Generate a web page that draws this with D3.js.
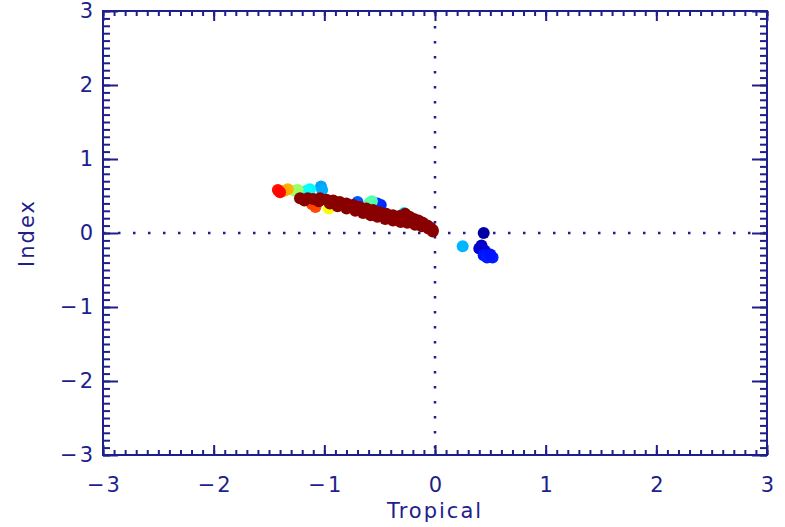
<!DOCTYPE html>
<html>
<head>
<meta charset="utf-8">
<script src="https://cdn.jsdelivr.net/npm/d3@7"></script>
<style>
  html, body { margin: 0; padding: 0; background: #ffffff; }
  svg { display: block; }
</style>
</head>
<body>
<script>
// ---- data ----
const xTicks = [-3, -2, -1, 0, 1, 2, 3];
const yTicks = [-3, -2, -1, 0, 1, 2, 3];
const xLabel = "Tropical";
const yLabel = "Index";

// coloured points: colour value t in [0,1] on a jet scale
const colX = [0.44, 0.42, 0.40, 0.45, 0.44, 0.47, 0.52, 0.50, 0.25, -0.49, -0.52, -0.70, -1.03, -1.02, -1.13, -1.16, -0.28, -0.57, -0.59, -1.24, -1.27, -0.96, -1.33, -1.36, -1.08, -1.11, -1.42, -1.40];
const colY = [0.00, -0.17, -0.21, -0.24, -0.30, -0.33, -0.33, -0.29, -0.18, 0.38, 0.40, 0.42, 0.63, 0.58, 0.59, 0.57, 0.27, 0.43, 0.41, 0.58, 0.57, 0.33, 0.59, 0.57, 0.35, 0.39, 0.58, 0.55];
const colT = [0.02, 0.05, 0.06, 0.07, 0.13, 0.14, 0.14, 0.13, 0.30, 0.15, 0.16, 0.20, 0.28, 0.29, 0.37, 0.38, 0.36, 0.45, 0.46, 0.52, 0.53, 0.62, 0.70, 0.71, 0.80, 0.81, 0.86, 0.87];

// dark-red trail (t = 1)
const trailX = [-1.22, -1.18, -1.15, -1.10, -1.05, -1.04, -0.98, -0.95, -0.92, -0.88, -0.86, -0.80, -0.80, -0.74, -0.72, -0.68, -0.65, -0.62, -0.58, -0.56, -0.52, -0.50, -0.45, -0.44, -0.38, -0.38, -0.32, -0.31, -0.27, -0.25, -0.23, -0.19, -0.18, -0.15, -0.12, -0.11, -0.07, -0.06, -0.04, -0.02, -0.02];
const trailY = [0.47, 0.44, 0.47, 0.46, 0.43, 0.47, 0.45, 0.40, 0.44, 0.36, 0.42, 0.40, 0.33, 0.38, 0.30, 0.35, 0.27, 0.33, 0.24, 0.31, 0.22, 0.28, 0.19, 0.26, 0.24, 0.17, 0.23, 0.15, 0.26, 0.14, 0.22, 0.19, 0.11, 0.17, 0.09, 0.14, 0.10, 0.06, 0.07, 0.04, 0.02];

// ---- layout ----
const W = 785, H = 527;
const ink = "#1e1e8c";
const font = "DejaVu Sans, sans-serif";
const svg = d3.select("body").append("svg").attr("width", W).attr("height", H);

const x = d3.scaleLinear().domain([-3, 3]).range([103, 767]);
const y = d3.scaleLinear().domain([-3, 3]).range([455, 11]);

const jet = d3.scaleLinear()
  .domain([0, 0.11, 0.375, 0.625, 0.875, 1])
  .range(["#000090", "#0000ff", "#00ffff", "#ffff00", "#ff0000", "#880000"])
  .clamp(true);

// dotted zero lines
const zl = svg.append("g").attr("stroke", ink).attr("stroke-width", 2.5).attr("stroke-dasharray", "2.5 12.5");
zl.append("line").attr("x1", x(-3)).attr("x2", x(3)).attr("y1", y(0)).attr("y2", y(0));
zl.append("line").attr("x1", x(0)).attr("x2", x(0)).attr("y1", y(3)).attr("y2", y(-3));

// points
const pts = colX.map((v, i) => ({ x: v, y: colY[i], t: colT[i] }))
  .concat(trailX.map((v, i) => ({ x: v, y: trailY[i], t: 1 })));
svg.append("g").selectAll("circle").data(pts).join("circle")
  .attr("cx", d => x(d.x)).attr("cy", d => y(d.y)).attr("r", 6)
  .attr("fill", d => jet(d.t));

// axes
const minorX = d3.range(-30, 31).map(v => v / 10);
const minorY = d3.range(-30, 31).map(v => v / 10);
function styleAxis(g) {
  g.select(".domain").remove();
  g.selectAll("line").attr("stroke", ink).attr("stroke-width", 2);
  g.selectAll("text").attr("fill", ink).attr("font-family", font).attr("font-size", 21)
    .attr("letter-spacing", "2px");
}
const fmt = d3.format("d");

svg.append("g").attr("transform", `translate(0,${y(-3)})`)
  .call(d3.axisBottom(x).tickValues(minorX).tickSize(-5).tickFormat("")).call(styleAxis);
svg.append("g").attr("transform", `translate(0,${y(-3)})`)
  .call(d3.axisBottom(x).tickValues(xTicks).tickSize(-10).tickPadding(22).tickFormat(fmt)).call(styleAxis)
  .selectAll("text").attr("dx", "1px");
svg.append("g").attr("transform", `translate(0,${y(3)})`)
  .call(d3.axisTop(x).tickValues(minorX).tickSize(-5).tickFormat("")).call(styleAxis);
svg.append("g").attr("transform", `translate(0,${y(3)})`)
  .call(d3.axisTop(x).tickValues(xTicks).tickSize(-10).tickFormat("")).call(styleAxis);

svg.append("g").attr("transform", `translate(${x(-3)},0)`)
  .call(d3.axisLeft(y).tickValues(minorY).tickSize(-7).tickFormat("")).call(styleAxis);
svg.append("g").attr("transform", `translate(${x(-3)},0)`)
  .call(d3.axisLeft(y).tickValues(yTicks).tickSize(-15).tickPadding(8).tickFormat(fmt)).call(styleAxis);
svg.append("g").attr("transform", `translate(${x(3)},0)`)
  .call(d3.axisRight(y).tickValues(minorY).tickSize(-7).tickFormat("")).call(styleAxis);
svg.append("g").attr("transform", `translate(${x(3)},0)`)
  .call(d3.axisRight(y).tickValues(yTicks).tickSize(-15).tickFormat("")).call(styleAxis);

// frame
svg.append("rect").attr("x", x(-3)).attr("y", y(3))
  .attr("width", x(3) - x(-3)).attr("height", y(-3) - y(3))
  .attr("fill", "none").attr("stroke", ink).attr("stroke-width", 2);

// axis titles
svg.append("text").attr("x", x(0)).attr("y", 518).attr("text-anchor", "middle")
  .attr("fill", ink).attr("font-family", font).attr("font-size", 21).attr("letter-spacing", "2px")
  .text(xLabel);
svg.append("text").attr("transform", `translate(34,${y(0)}) rotate(-90)`).attr("text-anchor", "middle")
  .attr("fill", ink).attr("font-family", font).attr("font-size", 21).attr("letter-spacing", "2px")
  .text(yLabel);
</script>
</body>
</html>
